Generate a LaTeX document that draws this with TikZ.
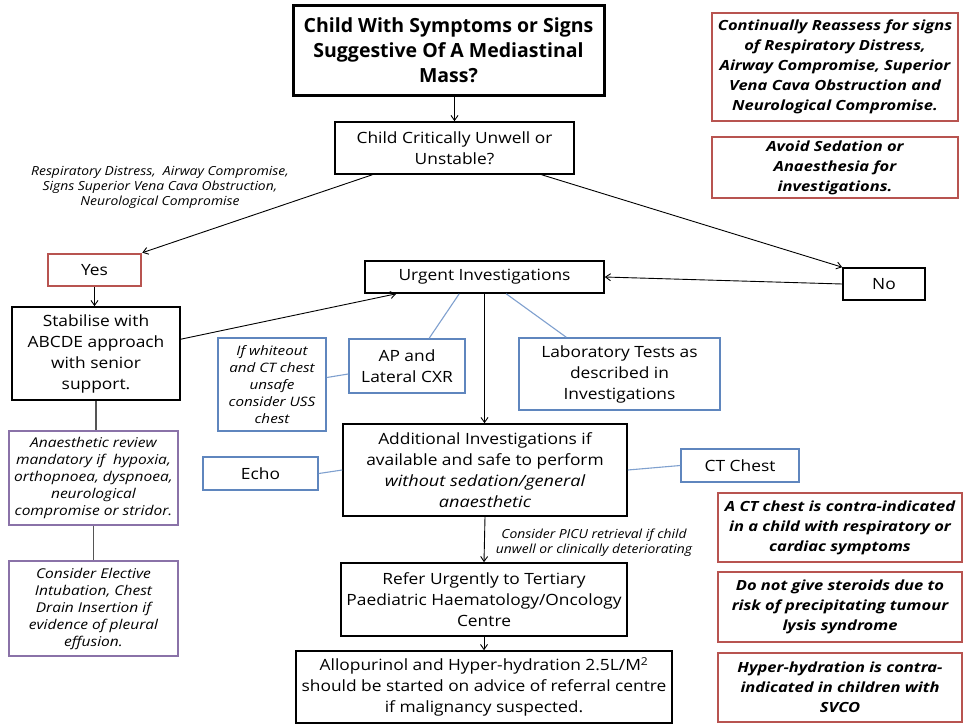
\documentclass[tikz,border=0pt]{standalone}
\usepackage{fontspec}
\setmainfont{Open Sans}[FakeStretch=1.12]
\newfontfamily\ttlf{Open Sans}
\newfontfamily\itf{Open Sans}[FakeStretch=1.17]
\newfontfamily\lblf{Open Sans}[FakeStretch=1.11]
\newfontfamily\purf{Open Sans}[FakeStretch=1.15]
\newfontfamily\redf{Open Sans}[FakeStretch=1.18]
\usetikzlibrary{arrows.meta,calc}
\definecolor{redc}{HTML}{B85450}
\definecolor{bluc}{HTML}{5F86BE}
\definecolor{lbluc}{HTML}{7FA0CF}
\definecolor{purc}{HTML}{8A72A8}
\definecolor{grayc}{HTML}{555555}
\begin{document}
\begin{tikzpicture}[x=1pt,y=-1pt,
  base/.style={rectangle,inner sep=0pt,align=center,fill=white},
  blk/.style={base,draw=black,line width=1.6pt,font=\fontsize{15.5}{21}\selectfont},
  ttl/.style={base,draw=black,line width=3pt,font=\ttlf\bfseries\fontsize{19.5}{25}\selectfont},
  redbox/.style={base,draw=redc,line width=2.6pt,font=\redf\bfseries\itshape\fontsize{14}{20}\selectfont},
  blubox/.style={base,draw=bluc,line width=1.6pt,font=\fontsize{15.5}{21}\selectfont},
  purbox/.style={base,draw=purc,line width=1.6pt,font=\purf\itshape\fontsize{13.5}{17}\selectfont},
  lbl/.style={align=center,inner sep=0pt,font=\lblf\itshape\fontsize{12.5}{15}\selectfont},
  arr/.style={-{Straight Barb[length=5pt,width=7pt]},line width=0.9pt},
  bline/.style={draw=lbluc,line width=1.1pt},
  gline/.style={draw=grayc,line width=1.1pt}]
\useasboundingbox (0,0) rectangle (963,726);
\fill[white] (0,0) rectangle (963,726);

\node[ttl,minimum width=311pt,minimum height=90pt] (title) at (448.5,50) {Child With Symptoms or Signs\\Suggestive Of A Mediastinal\\Mass?};
\node[blk,minimum width=239pt,minimum height=52pt] (crit) at (454.5,148) {Child Critically Unwell or\\Unstable?};
\node[redbox,font=\rmfamily\mdseries\upshape\fontsize{15.5}{21}\selectfont,minimum width=93pt,minimum height=32pt] (yes) at (94.5,270) {Yes};
\node[blk,minimum width=82pt,minimum height=32pt] (no) at (884,284) {No};
\node[blk,minimum width=239pt,minimum height=32pt] (urgent) at (484.5,277) {Urgent Investigations};
\node[blk,minimum width=168pt,minimum height=93pt] (stab) at (96,353.5) {Stabilise with\\ABCDE approach\\with senior\\support.};
\node[blubox,minimum width=116pt,minimum height=54pt] (ap) at (407,366) {AP and\\Lateral CXR};
\node[blubox,minimum width=201pt,minimum height=72pt] (lab) at (619.5,374) {Laboratory Tests as\\described in\\Investigations};
\node[blubox,font=\itf\itshape\fontsize{13}{17}\selectfont,minimum width=108pt,minimum height=93pt] (white) at (272,384.5) {If whiteout\\and CT chest\\unsafe\\consider USS\\chest};
\node[blk,minimum width=284pt,minimum height=92pt] (add) at (485,470) {Additional Investigations if\\available and safe to perform\\{\itf\itshape without sedation/general}\\{\itf\itshape anaesthetic}};
\node[blubox,minimum width=115pt,minimum height=33pt] (echo) at (260.5,473.5) {Echo};
\node[blubox,minimum width=118pt,minimum height=33pt] (ct) at (740,465.5) {CT Chest};
\node[blk,minimum width=286pt,minimum height=73pt] (refer) at (484,599.5) {Refer Urgently to Tertiary\\Paediatric Haematology/Oncology\\Centre};
\node[blk,minimum width=376pt,minimum height=72pt] (allo) at (484,687) {Allopurinol and Hyper-hydration 2.5L/M\textsuperscript{2}\\should be started on advice of referral centre\\if malignancy suspected.};
\node[purbox,minimum width=169pt,minimum height=94pt] (pur1) at (93.5,478) {Anaesthetic review\\mandatory if~ hypoxia,\\orthopnoea, dyspnoea,\\neurological\\compromise or stridor.};
\node[purbox,minimum width=169pt,minimum height=95pt] (pur2) at (93.5,608.5) {Consider Elective\\Intubation, Chest\\Drain Insertion if\\evidence of pleural\\effusion.};

\node[redbox,minimum width=246pt,minimum height=108pt] (r1) at (835,67) {Continually Reassess for signs\\of Respiratory Distress,\\Airway Compromise, Superior\\Vena Cava Obstruction and\\Neurological Compromise.};
\node[redbox,minimum width=246pt,minimum height=61pt] (r2) at (835,167.5) {Avoid Sedation or\\Anaesthesia for\\investigations.};
\node[redbox,minimum width=244pt,minimum height=69pt] (r3) at (840,527.5) {A CT chest is contra-indicated\\in a child with respiratory or\\cardiac symptoms};
\node[redbox,minimum width=244pt,minimum height=70pt] (r4) at (840,607) {Do not give steroids due to\\risk of precipitating tumour\\lysis syndrome};
\node[redbox,minimum width=244pt,minimum height=69pt] (r5) at (840,687.5) {Hyper-hydration is contra-\\indicated in children with\\SVCO};

\node[lbl] (sym) at (160,187) {Respiratory Distress,~ Airway Compromise,\\Signs Superior Vena Cava Obstruction,\\Neurological Compromise};
\node[lbl] (picu) at (594,543) {Consider PICU retrieval if child\\unwell or clinically deteriorating};

% connectors
\draw[arr] (crit.north |- title.south) -- (crit.north);
\draw[arr] ($(crit.south west)+(38,0)$) -- (yes.north east);
\draw[arr] ($(crit.south east)+(-33,0)$) -- (no.north west);
\draw[arr] (no.west) -- (urgent.east);
\draw[arr] (yes.south) -- (yes.south |- stab.north);
\draw[arr] ($(stab.north east)+(0,33)$) -- ($(urgent.south west)+(32,0)$);
\draw[arr] (urgent.south) -- (urgent.south |- add.north);
\draw[bline] ($(urgent.south west)+(95,0)$) -- ($(ap.north west)+(81,0)$);
\draw[bline] ($(urgent.south west)+(142,0)$) -- ($(lab.north west)+(48,0)$);
\draw[bline] ($(white.east)+(0,-7)$) -- ($(ap.west)+(0,8)$);
\draw[bline] (echo.east) -- (add.west);
\draw[bline] (add.east) -- (ct.west);
\draw[arr] (add.south) -- (refer.north);
\draw[arr] (refer.south) -- (allo.north);
\draw[gline] (stab.south) -- (stab.south |- pur1.north);
\draw[gline] (pur1.south) -- (pur2.north);
\end{tikzpicture}
\end{document}
